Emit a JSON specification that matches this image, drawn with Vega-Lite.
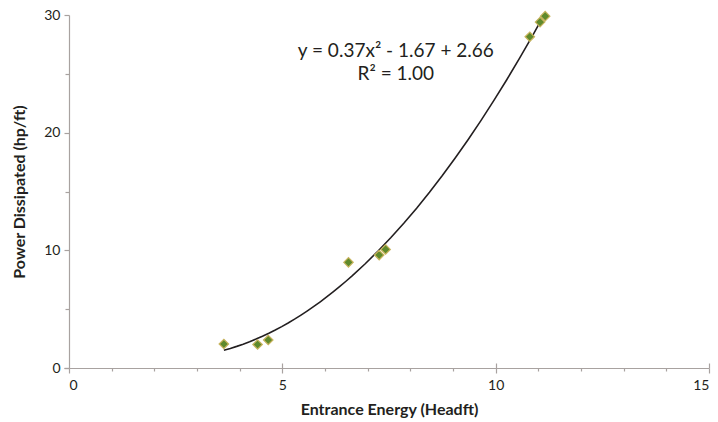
{
  "$schema": "https://vega.github.io/schema/vega-lite/v6.json",
  "width": 640,
  "height": 353,
  "autosize": {"type": "none"},
  "padding": {"left": 69, "top": 15, "right": 9, "bottom": 54},
  "background": "white",
  "config": {
    "view": {"stroke": null},
    "font": "Lato",
    "axis": {"grid": false, "domainColor": "#a8a2a0", "tickColor": "#a8a2a0", "labelColor": "#231f20", "titleColor": "#231f20", "labelFont": "Lato", "titleFont": "Lato", "labelFontSize": 14, "titleFontSize": 16, "titleFontWeight": "bold", "domainWidth": 1.2, "tickWidth": 1.2}
  },
  "datasets": {
    "pts": [
      {"energy": 3.63, "power": 2.04},
      {"energy": 4.42, "power": 2.0},
      {"energy": 4.67, "power": 2.38},
      {"energy": 6.55, "power": 8.98},
      {"energy": 7.27, "power": 9.6},
      {"energy": 7.42, "power": 10.08},
      {"energy": 10.8, "power": 28.15},
      {"energy": 11.04, "power": 29.4},
      {"energy": 11.16, "power": 29.9}
    ],
    "eq": [
      {"energy": 7.66, "power": 26.95, "label": "y = 0.37x² - 1.67 + 2.66"},
      {"energy": 7.66, "power": 25.0, "label": "R² = 1.00"}
    ]
  },
  "layer": [
    {
      "data": {"name": "pts"},
      "mark": {"type": "point", "opacity": 0},
      "encoding": {
        "x": {"field": "energy", "type": "quantitative", "scale": {"domain": [0, 15], "nice": false},
          "axis": {"orient": "bottom", "values": [1,2,3,4,6,7,8,9,11,12,13,14], "labels": false, "title": null, "domain": false, "tickSize": 3}},
        "y": {"field": "power", "type": "quantitative", "scale": {"domain": [0, 30], "nice": false},
          "axis": {"orient": "left", "values": [5, 15, 25], "labels": false, "title": null, "domain": false, "tickSize": 4}}
      }
    },
    {
      "data": {"name": "pts"},
      "mark": {"type": "point", "opacity": 0},
      "encoding": {
        "x": {"field": "energy", "type": "quantitative",
          "axis": {"orient": "bottom", "values": [5, 10, 15], "labels": false, "title": null, "domain": false, "tickSize": -5}},
        "y": {"field": "power", "type": "quantitative",
          "axis": {"orient": "left", "values": [0], "labels": false, "title": null, "domain": false, "tickSize": 5}}
      }
    },
    {
      "data": {"name": "pts"},
      "transform": [{"regression": "power", "on": "energy", "method": "poly", "order": 2}],
      "mark": {"type": "line", "color": "#231f20", "strokeWidth": 1.6},
      "encoding": {
        "x": {"field": "energy", "type": "quantitative", "axis": null},
        "y": {"field": "power", "type": "quantitative", "axis": null}
      }
    },
    {
      "data": {"name": "pts"},
      "mark": {"type": "point", "shape": "diamond", "filled": true, "size": 90, "fill": "#5f8a2c", "stroke": "#c9b45e", "strokeWidth": 1.2, "opacity": 1},
      "encoding": {
        "x": {"field": "energy", "type": "quantitative",
          "axis": {"orient": "bottom", "values": [0, 5, 10, 15], "title": "Entrance Energy (Headft)", "tickSize": 5, "labelPadding": 5, "titlePadding": 9}},
        "y": {"field": "power", "type": "quantitative",
          "axis": {"orient": "left", "values": [0, 10, 20, 30], "title": "Power Dissipated (hp/ft)", "tickSize": 5, "labelPadding": 4, "titlePadding": 16}}
      }
    },
    {
      "data": {"name": "eq"},
      "mark": {"type": "text", "font": "Lato", "fontSize": 19, "color": "#231f20", "align": "center", "baseline": "middle"},
      "encoding": {
        "x": {"field": "energy", "type": "quantitative", "axis": null},
        "y": {"field": "power", "type": "quantitative", "axis": null},
        "text": {"field": "label"}
      }
    }
  ],
  "resolve": {"axis": {"x": "independent", "y": "independent"}}
}
